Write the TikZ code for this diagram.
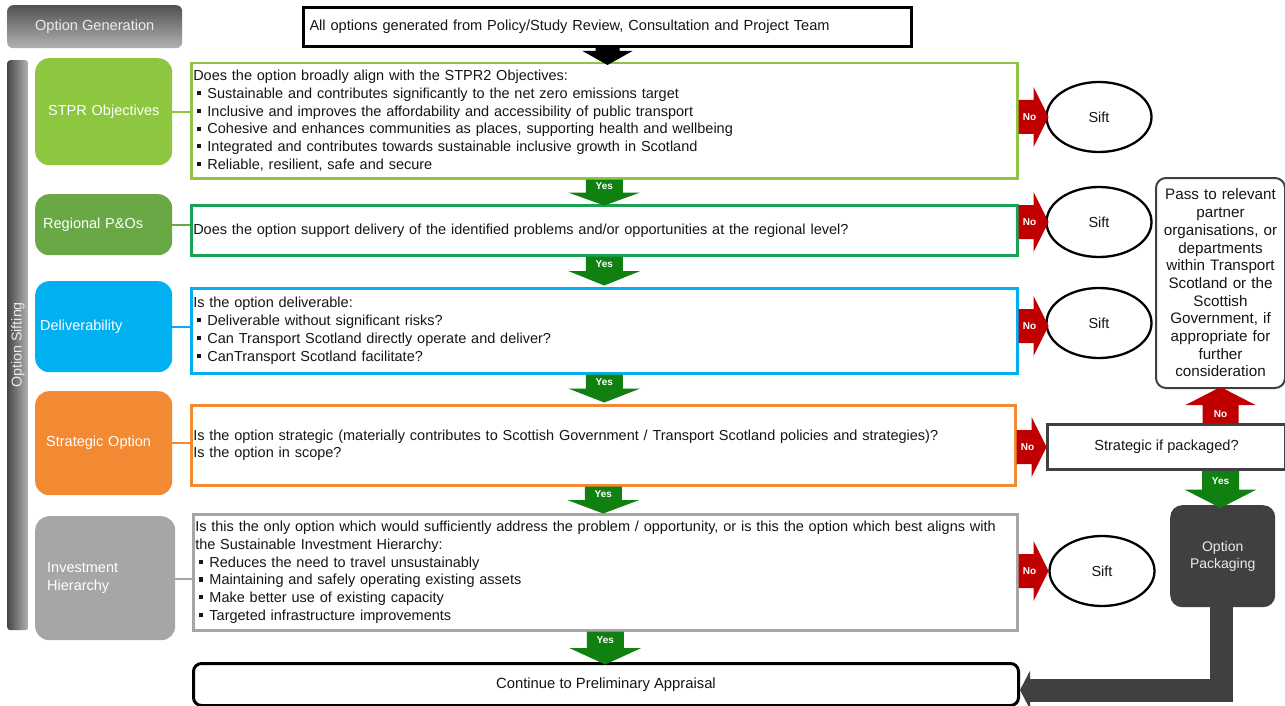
\documentclass[tikz,border=0pt]{standalone}
\usepackage{fontspec}
\setmainfont{Liberation Sans}
\usetikzlibrary{arrows.meta,shapes.geometric}

\definecolor{stprgreen}{RGB}{141,198,63}
\definecolor{reggreen}{RGB}{106,168,69}
\definecolor{regborder}{RGB}{27,161,84}
\definecolor{delblue}{RGB}{0,176,240}
\definecolor{stratorange}{RGB}{242,138,52}
\definecolor{invgray}{RGB}{166,166,166}
\definecolor{yesgreen}{RGB}{16,128,16}
\definecolor{nored}{RGB}{192,0,0}
\definecolor{darkbox}{RGB}{64,64,64}
\definecolor{bodytext}{RGB}{22,22,22}

% small square bullet used in the question lists
\newcommand\bulletsq{\hspace*{4pt}\rule[3.2pt]{4.2pt}{4.2pt}\hspace{6pt}}

\tikzset{
  qbox/.style={draw, line width=2.5pt, fill=white, anchor=north west, inner xsep=2pt,
    inner ysep=0pt, text width=822pt, align=left, text=bodytext,
    font=\fontsize{14.5}{17.7}\selectfont},
  catbox/.style={rounded corners=14pt, anchor=north west, inner ysep=0pt, align=left,
    text=white, font=\fontsize{14.5}{17.4}\selectfont},
  siftnode/.style={ellipse, draw, line width=2.3pt, minimum width=105pt, minimum height=70pt,
    inner sep=0pt, font=\fontsize{14.5}{17}\selectfont, text=bodytext},
  arrowtag/.style={font=\bfseries\fontsize{10}{10}\selectfont, text=white, inner sep=0pt},
  link/.style={line width=2pt},
  % block arrow pointing down: length / colour / label
  pics/downarr/.style n args={3}{code={
    \fill[#2] (-18.5,0) -- (18.5,0) -- (18.5,{#1/2}) -- (36,{#1/2}) -- (0,#1)
      -- (-36,{#1/2}) -- (-18.5,{#1/2}) -- cycle;
    \node[arrowtag] (-tag) at (0,{#1/4+0.5}) {#3};
  }},
  % block arrow pointing right, labelled No
  pics/rightarr/.style={code={
    \fill[nored] (0,-17) -- (15,-17) -- (15,-30) -- (30,0) -- (15,30) -- (15,17)
      -- (0,17) -- cycle;
    \node[arrowtag] (-tag) at (11,0) {No};
  }},
  % block arrow pointing up, labelled No
  pics/uparr/.style={code={
    \fill[nored] (-18,0) -- (18,0) -- (18,-18) -- (35,-18) -- (0,-36) -- (-35,-18)
      -- (-18,-18) -- cycle;
    \node[arrowtag] (-tag) at (0,-9) {No};
  }},
  % short black drop under the source box
  pics/droparr/.style={code={
    \fill[black] (-12,0) -- (12,0) -- (12,3) -- (25,3) -- (0,17) -- (-25,3) -- (-12,3) -- cycle;
  }},
}

\begin{document}
\begin{tikzpicture}[x=1pt,y=-1pt]
\useasboundingbox[fill=white] (0,0) rectangle (1285,706);

% stage headers
\node[rounded corners=6pt, top color=black!68, bottom color=black!30, anchor=north west,
  minimum width=175pt, minimum height=43pt, text=white!92!black,
  font=\fontsize{14.6}{17}\selectfont] (gen) at (7,5) {Option Generation};
\node[rounded corners=3pt, left color=black!72, right color=black!30, anchor=north west,
  minimum width=21pt, minimum height=570pt, inner sep=0pt] (siftbar) at (7,60) {};
\node[rotate=90, text=white!92!black, font=\fontsize{14.3}{17}\selectfont, inner sep=0pt]
  (siftlbl) at (18,345) {Option Sifting};

% source of options
\node[draw, line width=3pt, anchor=north west, minimum width=608pt, minimum height=39pt,
  text width=596pt, inner xsep=6pt, align=left, text=bodytext,
  font=\fontsize{14.6}{17.7}\selectfont] (src) at (302,6)
  {All options generated from Policy/Study Review, Consultation and Project Team};

% criteria categories
\node[catbox, fill=stprgreen, minimum width=137pt, minimum height=107pt, text width=111pt,
  inner xsep=13pt] (c1) at (35,58) {\mbox{STPR Objectives}};
\node[catbox, fill=reggreen, minimum width=137pt, minimum height=61pt, text width=121pt,
  inner xsep=8pt] (c2) at (35,194) {\mbox{Regional P\&Os}};
\node[catbox, fill=delblue, minimum width=137pt, minimum height=91pt, text width=127pt,
  inner xsep=5pt] (c3) at (35,281) {\mbox{Deliverability}};
\node[catbox, fill=stratorange, minimum width=137pt, minimum height=104pt, text width=115pt,
  inner xsep=11pt] (c4) at (35,391) {\mbox{Strategic Option}};
\node[catbox, fill=invgray, minimum width=140pt, minimum height=124pt, text width=116pt,
  inner xsep=12pt] (c5) at (35,516) {Investment\\[0.6pt]Hierarchy};

% questions
\node[qbox, draw=stprgreen, minimum width=826pt, minimum height=115pt] (q1) at (190,62)
  {Does the option broadly align with the STPR2 Objectives:\\
   \bulletsq Sustainable and contributes significantly to the net zero emissions target\\
   \bulletsq Inclusive and improves the affordability and accessibility of public transport\\
   \bulletsq Cohesive and enhances communities as places, supporting health and wellbeing\\
   \bulletsq Integrated and contributes towards sustainable inclusive growth in Scotland\\
   \bulletsq Reliable, resilient, safe and secure};
\node[qbox, draw=regborder, minimum width=826pt, minimum height=50pt] (q2) at (190,204)
  {Does the option support delivery of the identified problems and/or opportunities at the regional level?};
\node[qbox, draw=delblue, minimum width=826pt, minimum height=85pt] (q3) at (190,287)
  {Is the option deliverable:\\
   \bulletsq Deliverable without significant risks?\\
   \bulletsq Can Transport Scotland directly operate and deliver?\\
   \bulletsq CanTransport Scotland facilitate?};
\node[qbox, draw=stratorange, minimum width=824pt, text width=820pt, minimum height=80pt] (q4) at (190,404)
  {Is the option strategic (materially contributes to Scottish Government / Transport Scotland policies and strategies)?\\
   Is the option in scope?};
\node[qbox, draw=invgray, minimum width=824pt, text width=820pt, minimum height=116pt] (q5) at (192,513)
  {\mbox{Is this the only option which would sufficiently address the problem / opportunity, or is this the option which best aligns with}\\
   the Sustainable Investment Hierarchy:\\
   \bulletsq Reduces the need to travel unsustainably\\
   \bulletsq Maintaining and safely operating existing assets\\
   \bulletsq Make better use of existing capacity\\
   \bulletsq Targeted infrastructure improvements};

% category to question links
\draw[link, stprgreen] (c1.east) -- (c1.east -| q1.west);
\draw[link, reggreen] (c2.east) -- (c2.east -| q2.west);
\draw[link, delblue] (c3.east) -- (c3.east -| q3.west);
\draw[link, stratorange] (c4.east) -- (c4.east -| q4.west);
\draw[link, invgray] ([yshift=-1pt]c5.east) -- ([yshift=-1pt]c5.east -| q5.west);

% outcome
\node[draw, line width=3pt, rounded corners=8pt, anchor=north west, minimum width=825pt,
  minimum height=42pt, text=bodytext, font=\fontsize{14.8}{17.7}\selectfont] (cont) at (192,662)
  {Continue to Preliminary Appraisal};

% sift outcomes
\node[siftnode] (s1) at (1099,117) {Sift};
\node[siftnode] (s2) at (1099,222) {Sift};
\node[siftnode] (s3) at (1099,323) {Sift};
\node[siftnode] (s5) at (1102,571) {Sift};

% packaging route
\node[draw=darkbox, line width=3pt, anchor=north west, minimum width=238pt, minimum height=45pt,
  text=bodytext, font=\fontsize{14.6}{17}\selectfont] (pkgq) at (1046,423) {Strategic if packaged?};
\node[draw=darkbox, line width=2pt, rounded corners=10pt, anchor=north west, minimum width=129pt,
  minimum height=210pt, text width=125pt, inner xsep=2pt, align=center, text=bodytext,
  font=\fontsize{15.2}{17.7}\selectfont] (pass) at (1155,177)
  {Pass to relevant\\partner\\organisations, or\\departments\\within Transport\\Scotland or the\\Scottish\\Government, if\\appropriate for\\further\\consideration};
\node[fill=darkbox, rounded corners=12pt, anchor=north west, minimum width=105pt,
  minimum height=102pt, align=center, text=white!92!black,
  font=\fontsize{14}{17.5}\selectfont] (pack) at (1170,505) {Option\\Packaging};

% flow arrows
\pic (drop) at (src.south) {droparr};
\pic (y1) at (q1.south) {downarr={26}{yesgreen}{Yes}};
\pic (y2) at (q2.south) {downarr={29}{yesgreen}{Yes}};
\pic (y3) at (q3.south) {downarr={28}{yesgreen}{Yes}};
\pic (y4) at (q4.south) {downarr={27}{yesgreen}{Yes}};
\pic (y5) at (q5.south) {downarr={33}{yesgreen}{Yes}};

\pic (n1) at (q1.east |- s1) {rightarr};
\pic (n2) at (q2.east |- s2) {rightarr};
\pic (n3) at (q3.east |- 0,326) {rightarr};
\pic (n4) at (q4.east |- 0,447) {rightarr};
\pic (n5) at (q5.east |- s5) {rightarr};

\pic (nup) at (pkgq.north -| pass.south) {uparr};
\pic (ypk) at (pkgq.south -| pass.south) {downarr={37}{yesgreen}{Yes}};

\draw[darkbox, line width=23pt, -{Triangle[length=10pt,width=38pt]}]
  ([xshift=-1pt]pack.south) |- ([yshift=-5.5pt]cont.east);
\end{tikzpicture}
\end{document}
